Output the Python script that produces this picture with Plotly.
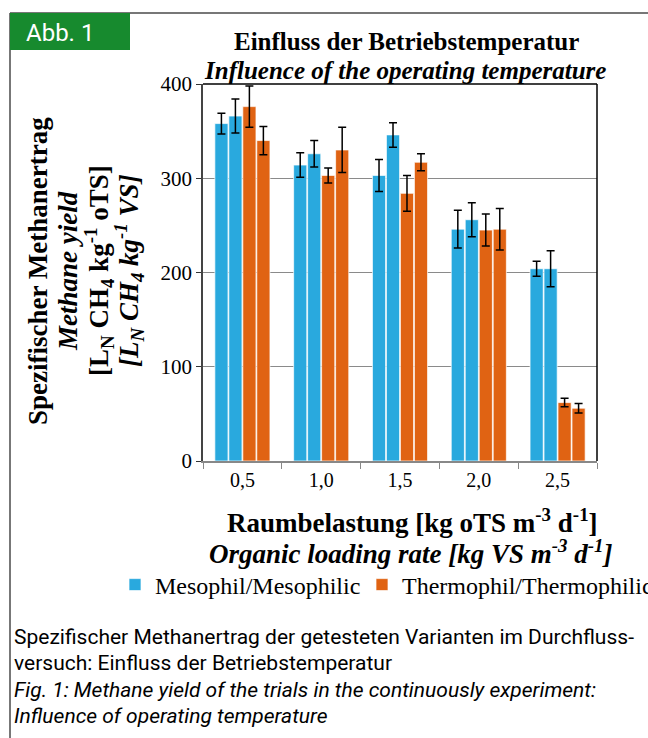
import plotly.graph_objects as go

categories = ["0,5", "1,0", "1,5", "2,0", "2,5"]
meso_a = [358, 314, 303, 246, 204]
meso_a_err = [11, 13, 17, 20, 8]
meso_b = [366, 326, 346, 256, 204]
meso_b_err = [18, 14, 13, 18, 19]
thermo_a = [376, 303, 284, 245, 62]
thermo_a_err = [22, 8, 19, 17, 4.5]
thermo_b = [340, 330, 317, 246, 56]
thermo_b_err = [15, 24, 9, 22, 5]

BLUE = "#29A9DE"
ORANGE = "#E06313"
SERIF = "Liberation Serif"

W, H = 648, 738
L, R, T, B = 203, 597, 84, 461


def px(x):
    return (x - L) / (R - L)


def py(y):
    return (B - y) / (B - T)


fig = go.Figure()
series = [
    (meso_a, meso_a_err, BLUE, "Mesophil/Mesophilic", True, "legend"),
    (meso_b, meso_b_err, BLUE, "Mesophil/Mesophilic", False, "legend"),
    (thermo_a, thermo_a_err, ORANGE, "Thermophil/Thermophilic", True, "legend2"),
    (thermo_b, thermo_b_err, ORANGE, "Thermophil/Thermophilic", False, "legend2"),
]
for vals, errs, col, name, show, lg in series:
    fig.add_trace(go.Bar(
        x=categories, y=vals, name=name, showlegend=show, legend=lg,
        marker=dict(color=col, line=dict(color="rgba(255,255,255,0.7)", width=1)),
        error_y=dict(type="data", array=errs, color="black", thickness=1.5, width=4),
    ))

legend_common = dict(orientation="h", yanchor="middle", xanchor="left",
                     font=dict(family=SERIF, size=24), itemwidth=30,
                     bgcolor="rgba(0,0,0,0)", borderwidth=0)

fig.update_layout(
    width=W, height=H,
    margin=dict(l=L, r=W - R, t=T, b=H - B, autoexpand=False),
    paper_bgcolor="white", plot_bgcolor="white",
    barmode="group", bargap=0.29, bargroupgap=0.06,
    font=dict(family=SERIF, color="black"),
    showlegend=True,
    legend=dict(x=px(115), y=py(585), **legend_common),
    legend2=dict(x=px(362), y=py(585), **legend_common),
    xaxis=dict(type="category", tickson="boundaries", ticks="outside", ticklen=6,
               tickcolor="#888", linecolor="#888", linewidth=1.5, showline=True,
               tickfont=dict(family=SERIF, size=20), showgrid=False),
    yaxis=dict(range=[0, 400], tickvals=[0, 100, 200, 300, 400], ticks="outside",
               ticklen=5, tickcolor="#333", showline=True, linecolor="#444", linewidth=1.5,
               showgrid=True, gridcolor="#8a8a8a", gridwidth=1.3, zeroline=False,
               tickfont=dict(family=SERIF, size=21)),
)

shapes = [
    dict(type="line", xref="paper", yref="paper", x0=0, x1=1, y0=1, y1=1,
         line=dict(color="black", width=1.5)),
    dict(type="line", xref="paper", yref="paper", x0=1, x1=1, y0=0, y1=1,
         line=dict(color="black", width=1.5)),
    dict(type="line", xref="paper", yref="paper", x0=px(10), x1=px(10), y0=py(13), y1=py(740),
         line=dict(color="#777", width=2)),
    dict(type="line", xref="paper", yref="paper", x0=px(10), x1=px(650), y0=py(13), y1=py(13),
         line=dict(color="#777", width=2)),
    dict(type="rect", xref="paper", yref="paper", x0=px(10), x1=px(130), y0=py(13), y1=py(50),
         fillcolor="#178A2E", line=dict(width=0)),
]
fig.update_layout(shapes=shapes)

ann = []


def add(text, x, y, size, xanchor="center", angle=0, family=SERIF, color="black"):
    ann.append(dict(text=text, x=px(x), y=py(y), xref="paper", yref="paper",
                    xanchor=xanchor, yanchor="middle", showarrow=False, textangle=angle,
                    font=dict(family=family, size=size, color=color)))


add("Abb. 1", 60, 33, 24, family="Roboto", color="white")
add("<b>Einfluss der Betriebstemperatur</b>", 406, 42, 25)
add("<b><i>Influence of the operating temperature</i></b>", 405, 70, 25)
add("<b>Raumbelastung [kg oTS m<sup>-3</sup> d<sup>-1</sup>]</b>", 412, 521, 27)
add("<b><i>Organic loading rate [kg VS m<sup>-3</sup> d<sup>-1</sup>]</i></b>", 411, 552, 27)
add("<b>Spezifischer Methanertrag</b>", 38, 271, 27, angle=-90)
add("<b><i>Methane yield</i></b>", 68, 271, 27, angle=-90)
add("<b>[L<sub>N</sub> CH<sub>4</sub> kg<sup>-1</sup> oTS]</b>", 99, 271, 27, angle=-90)
add("<b><i>[L<sub>N</sub> CH<sub>4</sub> kg<sup>-1</sup> VS]</i></b>", 129, 271, 27, angle=-90)

cap = "Roboto"
add("Spezifischer Methanertrag der getesteten Varianten im Durchfluss-", 12, 637, 21, xanchor="left", family=cap)
add("versuch: Einfluss der Betriebstemperatur", 12, 663, 21, xanchor="left", family=cap)
add("<i>Fig. 1: Methane yield of the trials in the continuously experiment:</i>", 12, 690, 21, xanchor="left", family=cap)
add("<i>Influence of operating temperature</i>", 12, 716, 21, xanchor="left", family=cap)
fig.update_layout(annotations=ann)

fig.write_html("out.html", config={"displayModeBar": False},
               post_script="document.body.style.margin='0';")
